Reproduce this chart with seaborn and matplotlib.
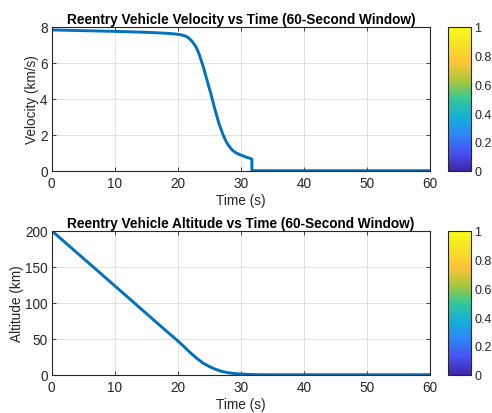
import numpy as np
import pandas as pd
import matplotlib
matplotlib.use("Agg")
import matplotlib.pyplot as plt
import seaborn as sns
from matplotlib.colors import LinearSegmentedColormap
from matplotlib.cm import ScalarMappable
from matplotlib.colors import Normalize

# ---- data ----
vel_time = [0, 5, 10, 15, 18, 19.5, 20.5, 21.2, 21.7, 22.1, 22.5, 22.9, 23.3,
            23.7, 24.1, 24.5, 24.9, 25.3, 25.7, 26.1, 26.5, 26.9, 27.3, 27.7,
            28.2, 28.7, 29.3, 30, 30.8, 31.75, 31.75, 35, 40, 45, 50, 55, 60]
velocity = [7.82, 7.78, 7.74, 7.69, 7.64, 7.6, 7.55, 7.48, 7.38, 7.25, 7.08,
            6.87, 6.55, 6.15, 5.7, 5.2, 4.7, 4.2, 3.65, 3.15, 2.65, 2.25, 1.9,
            1.6, 1.33, 1.12, 0.98, 0.87, 0.76, 0.65, 0, 0, 0, 0, 0, 0, 0]

alt_time = [0, 10, 18, 20, 21, 22, 23, 24, 25, 26, 27, 28, 29, 30, 31, 32,
            33, 35, 40, 50, 60]
altitude = [200, 123.5, 62, 47, 38.8, 30.5, 22.8, 16.2, 11.3, 7.4, 4.5, 2.7,
            1.6, 1.0, 0.5, 0.2, 0.05, 0, 0, 0, 0]

titles = ["Reentry Vehicle Velocity vs Time (60-Second Window)",
          "Reentry Vehicle Altitude vs Time (60-Second Window)"]
ylabels = ["Velocity (km/s)", "Altitude (km)"]
xlabel = "Time (s)"
xticks = [0, 10, 20, 30, 40, 50, 60]
yticks_list = [[0, 2, 4, 6, 8], [0, 50, 100, 150, 200]]
cbar_ticks = [0, 0.2, 0.4, 0.6, 0.8, 1]
cbar_labels = ["0", "0.2", "0.4", "0.6", "0.8", "1"]

sns.set_theme(style="white")
plt.rcParams['font.family'] = ['Liberation Sans', 'DejaVu Sans']

txt = (0.15, 0.15, 0.15)
line_color = "#0072BD"
fs = 9.8

parula_pts = [
    (0.0, (0.2422, 0.1504, 0.6603)),
    (0.125, (0.2810, 0.3228, 0.9579)),
    (0.25, (0.1786, 0.5289, 0.9682)),
    (0.375, (0.0689, 0.6948, 0.8394)),
    (0.5, (0.2161, 0.7843, 0.5923)),
    (0.625, (0.6720, 0.7793, 0.2227)),
    (0.75, (0.9970, 0.7659, 0.2199)),
    (0.875, (0.9598, 0.8870, 0.1531)),
    (1.0, (0.9769, 0.9839, 0.0805)),
]
parula = LinearSegmentedColormap.from_list("parula", parula_pts)

fig = plt.figure(figsize=(4.92, 4.14), dpi=100)
fig.patch.set_facecolor("white")

W, H = 492.0, 414.0
ax_left, ax_right = 51.7, 430.0
cb_left, cb_right = 448.3, 470.7
rows = [(27.7, 171.7), (231.7, 375.7)]

dfs = [pd.DataFrame({"t": vel_time, "v": velocity}),
       pd.DataFrame({"t": alt_time, "v": altitude})]

for i, (top, bot) in enumerate(rows):
    ax = fig.add_axes([ax_left / W, 1 - bot / H, (ax_right - ax_left) / W, (bot - top) / H])
    sns.lineplot(data=dfs[i], x="t", y="v", ax=ax, color=line_color,
                 linewidth=2.1, sort=False, estimator=None)
    ax.set_xlim(0, 60)
    ax.set_ylim(yticks_list[i][0], yticks_list[i][-1])
    ax.set_xticks(xticks)
    ax.set_yticks(yticks_list[i])
    ax.grid(True, color=(0.15, 0.15, 0.15), alpha=0.15, linewidth=0.6)
    ax.set_axisbelow(True)
    for s in ax.spines.values():
        s.set_color(txt)
        s.set_linewidth(0.8)
        s.set_visible(True)
    ax.tick_params(direction="in", length=3, width=0.6, colors=txt,
                   labelsize=fs, top=True, right=True, bottom=True, left=True)
    ax.tick_params(axis="x", pad=4)
    ax.tick_params(axis="y", pad=3)
    ax.set_title(titles[i], fontsize=fs, fontweight="bold", color="black", pad=3)
    ax.set_xlabel(xlabel, fontsize=fs, color=txt, labelpad=2)
    ax.set_ylabel(ylabels[i], fontsize=fs, color=txt, labelpad=1)

    cax = fig.add_axes([cb_left / W, 1 - bot / H, (cb_right - cb_left) / W, (bot - top) / H])
    sm = ScalarMappable(norm=Normalize(0, 1), cmap=parula)
    cb = fig.colorbar(sm, cax=cax, ticks=cbar_ticks)
    cb.ax.set_yticklabels(cbar_labels)
    cb.outline.set_edgecolor(txt)
    cb.outline.set_linewidth(0.8)
    cb.ax.tick_params(direction="in", length=2.5, width=0.6, colors=txt,
                      labelsize=9, pad=2.5)

fig.savefig("out.png", dpi=100, facecolor="white")
